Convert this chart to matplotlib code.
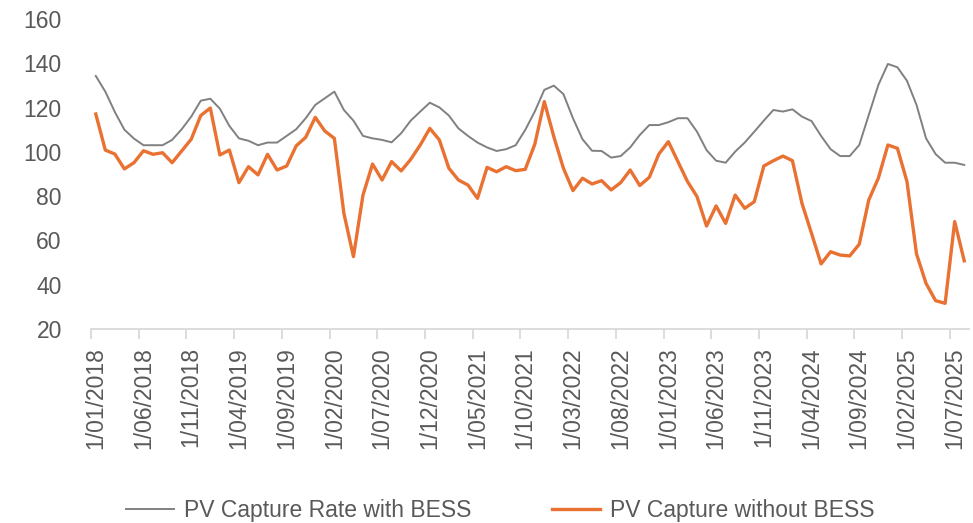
import matplotlib
matplotlib.use("Agg")
import matplotlib.pyplot as plt
import pandas as pd

months = pd.date_range("2018-01-01", periods=92, freq="MS")
month_labels = [f"1/{d.month:02d}/{d.year}" for d in months]

with_bess = [134.3, 127.2, 118, 110, 106, 103, 103, 103, 105.4, 110.2, 115.9, 123.1, 124,
             119.5, 111.7, 106.1, 105, 103, 104.2, 104.2, 107.2, 110.2, 115.2, 121.2, 124.2, 127.2,
             118.9, 114.1, 107.2, 106.1, 105.4, 104.3, 108.4, 114.1, 118.2, 122.2, 120.1, 116.4, 110.6,
             107.2, 104.2, 102, 100.4, 101.2, 103, 109.9, 118.2, 128, 129.9, 126.1, 115.2, 105.7,
             100.5, 100.4, 97.4, 98.1, 102, 107.6, 112.1, 112.1, 113.4, 115.2, 115.2, 109.1, 100.8,
             96, 95.1, 100.1, 104.2, 109.1, 114.1, 118.9, 118.2, 119.2, 115.9, 113.9, 107.2, 101.2,
             98.1, 98.1, 103.1, 116.7, 130.2, 139.7, 138.2, 132.1, 121.2, 106.1, 99, 95.1, 95.1, 94.1]

without_bess = [117.1, 100.8, 99, 92.3, 95.1, 100.5, 98.9, 99.6, 95.1, 100.4, 105.7, 116.4, 119.8,
                98.6, 100.8, 86.1, 93.3, 89.6, 98.9, 91.8, 93.6, 102.7, 106.6, 115.6, 109.4, 106.1,
                72.2, 52.7, 80.5, 94.5, 87.3, 95.6, 91.4, 96.6, 103.1, 110.6, 105.4, 92.6, 87.3,
                85, 79, 93, 91, 93.3, 91.5, 92.1, 103.4, 122.7, 106.8, 92.6, 82.5, 88.1,
                85.5, 87, 82.8, 86.1, 91.8, 84.8, 88.5, 99, 104.6, 95.6, 86.6, 79.8, 66.5,
                75.6, 67.7, 80.5, 74.5, 77.5, 93.6, 96, 98.1, 96, 76.7, 63.2, 49.4, 54.9,
                53.4, 53, 58.3, 78.3, 88.1, 103.1, 101.6, 86.6, 53.9, 40.6, 32.8, 31.6, 68.5, 50.8]

series_names = ["PV Capture Rate with BESS", "PV Capture without BESS"]
y_ticks = [20, 40, 60, 80, 100, 120, 140, 160]

plt.rcParams['font.family'] = ['Liberation Sans', 'DejaVu Sans']
text_color = "#595959"

fig = plt.figure(figsize=(9.73, 5.23), dpi=100)
ax = fig.add_axes([91/973, 1-329/523, (969-91)/973, (329-19)/523])

x = list(range(len(months)))
ax.plot(x, with_bess, color="#808080", lw=1.4, label=series_names[0])
ax.plot(x, without_bess, color="#E97132", lw=2.4, label=series_names[1])

ax.set_xlim(-0.5, len(months) - 0.5)
ax.set_ylim(20, 160)
ax.set_yticks(y_ticks)
ax.tick_params(axis='y', length=0, pad=21, labelsize=16.5, labelcolor=text_color)

label_pos = list(range(0, len(months), 5))
ax.set_xticks(label_pos)
ax.set_xticklabels([month_labels[i] for i in label_pos], rotation=90)
ax.tick_params(axis='x', which='major', length=0, pad=13, labelsize=16.5, labelcolor=text_color)
ax.set_xticks([p - 0.5 for p in label_pos], minor=True)
ax.tick_params(axis='x', which='minor', length=7, width=1.3, color="#D9D9D9")

for s in ['top', 'right', 'left']:
    ax.spines[s].set_visible(False)
ax.spines['bottom'].set_color("#D9D9D9")
ax.spines['bottom'].set_linewidth(1.3)

leg = fig.legend(loc='center', bbox_to_anchor=(500/973, 1-511/523), ncol=2, frameon=False,
                 fontsize=16.5, handlelength=2.1, handletextpad=0.45, columnspacing=3.5)
for t in leg.get_texts():
    t.set_color(text_color)

fig.savefig("out.png", dpi=100)
